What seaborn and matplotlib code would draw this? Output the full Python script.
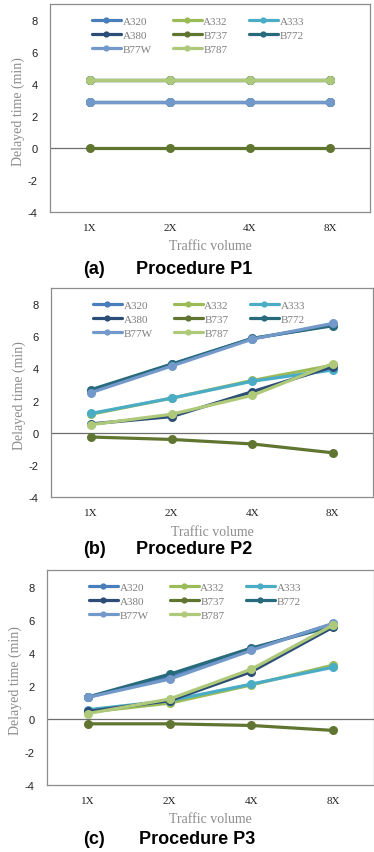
import numpy as np
import pandas as pd
import seaborn as sns
import matplotlib
matplotlib.use("Agg")
import matplotlib.pyplot as plt

sns.set_style("white")

volumes = ["1X", "2X", "4X", "8X"]
aircraft = ["A320", "A332", "A333", "A380", "B737", "B772", "B77W", "B787"]

p1 = {
    "A320": [2.85, 2.85, 2.85, 2.85],
    "A332": [4.25, 4.25, 4.25, 4.25],
    "A333": [4.25, 4.25, 4.25, 4.25],
    "A380": [4.25, 4.25, 4.25, 4.25],
    "B737": [-0.03, -0.03, -0.03, -0.03],
    "B772": [2.85, 2.85, 2.85, 2.85],
    "B77W": [2.85, 2.85, 2.85, 2.85],
    "B787": [4.25, 4.25, 4.25, 4.25],
}
p2 = {
    "A320": [2.6, 4.25, 5.85, 6.7],
    "A332": [1.15, 2.15, 3.25, 4.2],
    "A333": [1.2, 2.15, 3.2, 3.9],
    "A380": [0.55, 1.0, 2.55, 4.1],
    "B737": [-0.27, -0.42, -0.7, -1.25],
    "B772": [2.68, 4.27, 5.87, 6.65],
    "B77W": [2.5, 4.15, 5.82, 6.8],
    "B787": [0.5, 1.15, 2.32, 4.3],
}
p3 = {
    "A320": [1.3, 2.55, 4.2, 5.75],
    "A332": [0.4, 0.95, 2.05, 3.25],
    "A333": [0.55, 1.1, 2.1, 3.12],
    "A380": [0.45, 1.1, 2.85, 5.55],
    "B737": [-0.3, -0.3, -0.4, -0.7],
    "B772": [1.32, 2.7, 4.28, 5.6],
    "B77W": [1.3, 2.4, 4.14, 5.77],
    "B787": [0.32, 1.2, 3.0, 5.67],
}
panels = [p1, p2, p3]
captions = [("(a)", "Procedure P1"), ("(b)", "Procedure P2"), ("(c)", "Procedure P3")]
yticks = [-4, -2, 0, 2, 4, 6, 8]

palette = {
    "A320": "#4a7ebb",
    "A332": "#9bbb59",
    "A333": "#4bacc6",
    "A380": "#2c4d75",
    "B737": "#5f7530",
    "B772": "#276a7c",
    "B77W": "#7399ca",
    "B787": "#afc97a",
}

W, H = 374, 853
fig = plt.figure(figsize=(W / 100, H / 100), dpi=100)

# axes boxes in pixels: left, right, top, bottom
boxes = [(50, 370, 5, 213), (51, 373, 289, 498), (47, 374, 571, 786)]
cap_y = [269, 550, 840]
cap_x = [(83, 136), (83, 136), (83, 139)]

serif = "Liberation Serif"
sans = "Liberation Sans"

for i, (data, box) in enumerate(zip(panels, boxes)):
    l, r, t, b = box
    ax = fig.add_axes([l / W, (H - b) / H, (r - l) / W, (b - t) / H])
    rows = []
    for a in aircraft:
        for v, y in zip(volumes, data[a]):
            rows.append({"Aircraft": a, "Traffic volume": v, "Delay": y})
    df = pd.DataFrame(rows)
    ax.axhline(0, color="#6e6e6e", lw=0.9, zorder=1)
    sns.lineplot(data=df, x="Traffic volume", y="Delay", hue="Aircraft",
                 hue_order=aircraft, palette=palette, marker="o",
                 markersize=6.5, markeredgewidth=0, linewidth=2.3,
                 sort=False, ax=ax, zorder=3)
    ax.set_xlim(-0.5, 3.5)
    ax.set_ylim(-4, 9)
    ax.set_yticks(yticks)
    ax.set_yticklabels([str(v) for v in yticks], fontfamily=sans, fontsize=8, color="#222222")
    ax.set_xticks(range(len(volumes)))
    ax.set_xticklabels(volumes, fontfamily=serif, fontsize=8, color="#222222")
    ax.tick_params(axis="x", length=0, pad=8)
    ax.tick_params(axis="y", length=3, width=0.8, color="#888888", direction="out", pad=6)
    for s in ax.spines.values():
        s.set_color("#8c8c8c")
        s.set_linewidth(0.9)
    hpx = b - t
    ax.set_xlabel("Traffic volume", fontfamily=serif, fontsize=10, color="#8c8c8c")
    ax.xaxis.set_label_coords(0.5, -34 / hpx)
    ax.xaxis.label.set_va("center")
    ax.set_ylabel("Delayed time (min)", fontfamily=serif, fontsize=10, color="#8c8c8c")
    ax.yaxis.set_label_coords(-32 / (r - l), 0.49)
    ax.yaxis.label.set_va("center")

    handles, labels = ax.get_legend_handles_labels()
    hmap = dict(zip(labels, handles))
    order = ["A320", "A380", "B77W", "A332", "B737", "B787", "A333", "B772"]
    hs = [hmap[o] for o in order]
    for h in hs:
        h.set_markersize(4.5)
        h.set_linewidth(2.3)
    leg = ax.legend(hs, order, ncol=3, loc="upper left",
                    bbox_to_anchor=(42 / (r - l), 1 - 12 / hpx),
                    frameon=False, borderaxespad=0, borderpad=0,
                    handlelength=2.6, handletextpad=0.15, columnspacing=1.9,
                    labelspacing=0.4, prop={"family": serif, "size": 8})
    for txt in leg.get_texts():
        txt.set_color("#7f7f7f")

    ya = (H - cap_y[i]) / H
    fig.text(cap_x[i][0] / W, ya, captions[i][0], fontfamily=sans, fontweight="bold",
             fontsize=13, ha="left", va="center", color="black")
    fig.text(cap_x[i][1] / W, ya, captions[i][1], fontfamily=sans, fontweight="bold",
             fontsize=13, ha="left", va="center", color="black")

fig.savefig("out.png", dpi=100)
